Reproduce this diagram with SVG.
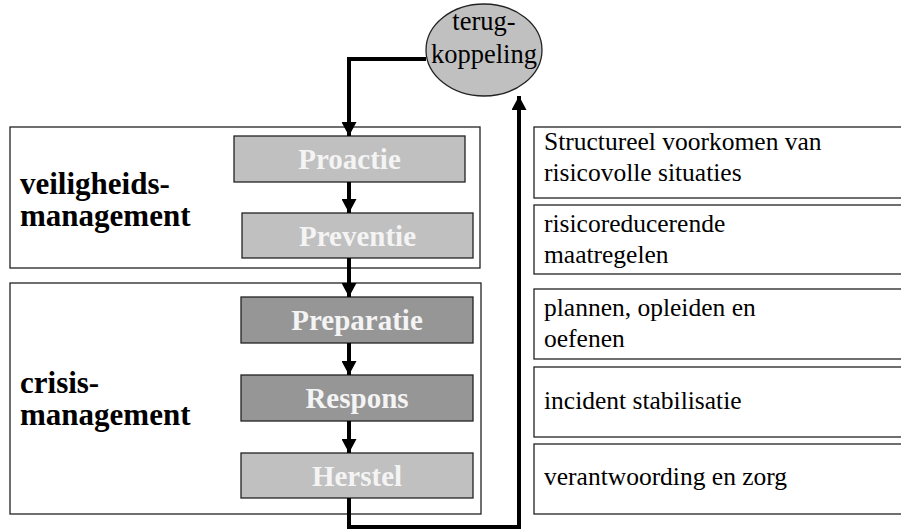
<svg xmlns="http://www.w3.org/2000/svg" width="901" height="530" viewBox="0 0 901 530">
  <style>
    .frame { fill: #ffffff; stroke: #222222; stroke-width: 1.3; }
    .step { stroke: #222222; stroke-width: 1.3; }
    .light { fill: #c0c0c0; }
    .dark { fill: #969696; }
    .steptext { font-family: "Liberation Serif", "Times New Roman", serif; font-weight: bold; font-size: 29px; fill: #f4f4f4; text-anchor: middle; }
    .group { font-family: "Liberation Serif", "Times New Roman", serif; font-weight: bold; font-size: 31px; fill: #000000; }
    .note { font-family: "Liberation Serif", "Times New Roman", serif; font-size: 25.5px; fill: #000000; }
    .ell { font-family: "Liberation Serif", "Times New Roman", serif; font-size: 26.5px; fill: #000000; text-anchor: middle; }
    .wire { fill: none; stroke: #000000; stroke-width: 4; marker-end: url(#head); }
  </style>
  <defs>
    <marker id="head" markerUnits="userSpaceOnUse" markerWidth="15" markerHeight="15" refX="14" refY="7.5" orient="auto">
      <path d="M0,0 L14,7.5 L0,15 Z" fill="#000000"/>
    </marker>
  </defs>

  <rect width="901" height="530" fill="#ffffff"/>

  <!-- management frames -->
  <g id="veiligheidsmanagement">
    <rect class="frame" x="10" y="127" width="470" height="141"/>
    <text class="group" x="20" y="194">veiligheids-</text>
    <text class="group" x="20" y="226">management</text>
  </g>
  <g id="crisismanagement">
    <rect class="frame" x="10" y="283" width="471" height="231"/>
    <text class="group" x="20" y="393">crisis-</text>
    <text class="group" x="20" y="425">management</text>
  </g>

  <!-- process steps -->
  <g id="proactie">
    <rect class="step light" x="234" y="136" width="231" height="46"/>
    <text class="steptext" x="349.5" y="169">Proactie</text>
  </g>
  <g id="preventie">
    <rect class="step light" x="242" y="213" width="231" height="45"/>
    <text class="steptext" x="357.5" y="246">Preventie</text>
  </g>
  <g id="preparatie">
    <rect class="step dark" x="241" y="297" width="232" height="46"/>
    <text class="steptext" x="357" y="330">Preparatie</text>
  </g>
  <g id="respons">
    <rect class="step dark" x="241" y="375" width="232" height="46"/>
    <text class="steptext" x="357" y="408">Respons</text>
  </g>
  <g id="herstel">
    <rect class="step light" x="241" y="453" width="232" height="45"/>
    <text class="steptext" x="357" y="486">Herstel</text>
  </g>

  <!-- feedback node -->
  <g id="terugkoppeling">
    <ellipse cx="484" cy="50" rx="58" ry="46" fill="#c0c0c0" stroke="#222222" stroke-width="1.3"/>
    <text class="ell" x="484" y="30">terug-</text>
    <text class="ell" x="484" y="63">koppeling</text>
  </g>

  <!-- descriptions -->
  <g id="desc-proactie">
    <rect class="frame" x="534" y="127" width="372" height="71"/>
    <text class="note" x="544" y="150">Structureel voorkomen van</text>
    <text class="note" x="544" y="181">risicovolle situaties</text>
  </g>
  <g id="desc-preventie">
    <rect class="frame" x="534" y="205" width="372" height="69"/>
    <text class="note" x="544" y="232">risicoreducerende</text>
    <text class="note" x="544" y="263">maatregelen</text>
  </g>
  <g id="desc-preparatie">
    <rect class="frame" x="534" y="289" width="372" height="70"/>
    <text class="note" x="544" y="316">plannen, opleiden en</text>
    <text class="note" x="544" y="347">oefenen</text>
  </g>
  <g id="desc-respons">
    <rect class="frame" x="534" y="367" width="372" height="70"/>
    <text class="note" x="544" y="409">incident stabilisatie</text>
  </g>
  <g id="desc-herstel">
    <rect class="frame" x="534" y="444" width="372" height="70"/>
    <text class="note" x="544" y="485">verantwoording en zorg</text>
  </g>

  <!-- connectors -->
  <g id="connectors">
    <path class="wire" d="M426,59 H349 V136"/>
    <path class="wire" d="M349,182 V213"/>
    <path class="wire" d="M349,258 V297"/>
    <path class="wire" d="M349,343 V375"/>
    <path class="wire" d="M349,421 V453"/>
    <path class="wire" d="M349,498 V527 H519 V96"/>
  </g>
</svg>
